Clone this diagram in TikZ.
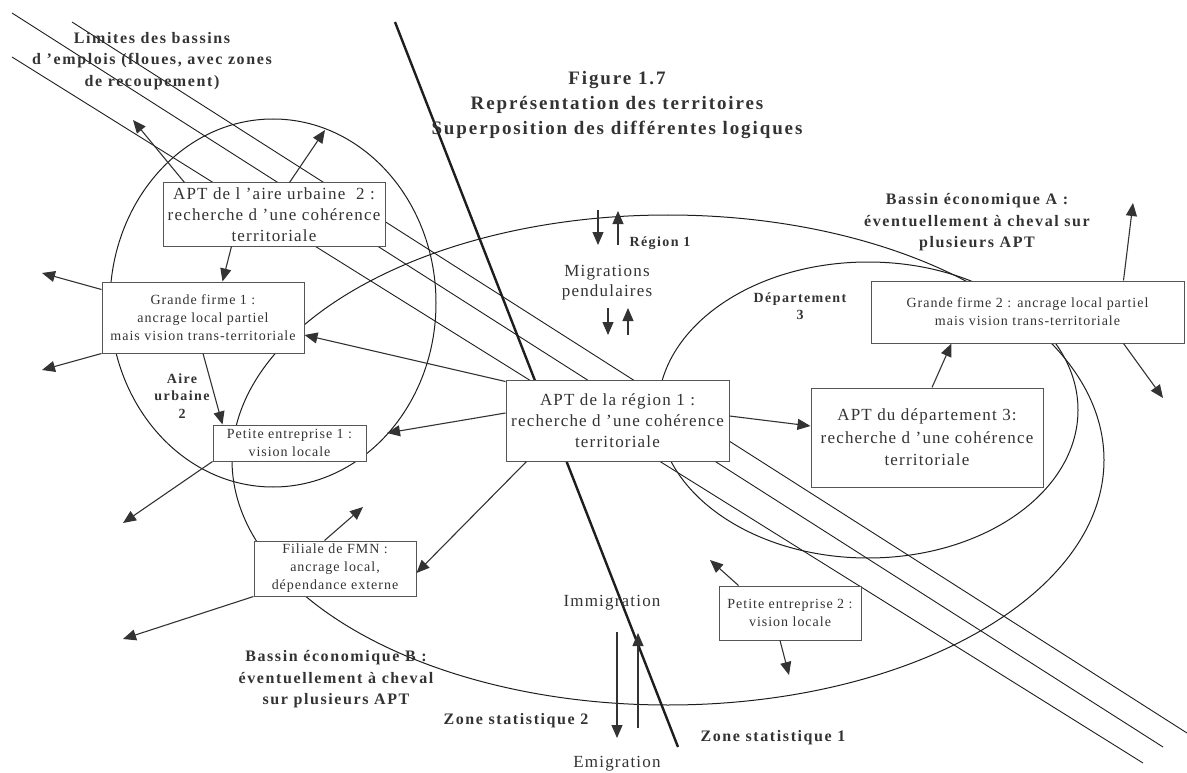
\documentclass[tikz,border=0pt]{standalone}
\usepackage{fontspec}
\setmainfont{Liberation Serif}[LetterSpace=7]
\newfontfamily\lblfont{Liberation Serif}[LetterSpace=10]
\usetikzlibrary{arrows.meta}

\definecolor{ink}{HTML}{333333}
\definecolor{boxline}{HTML}{555555}
\definecolor{rule}{HTML}{1E1E1E}

\tikzset{
  box/.style={draw=boxline, line width=1pt, fill=white, inner sep=0pt,
    align=center, text=ink},
  bigtxt/.style={font=\fontsize{17}{21}\selectfont},
  smalltxt/.style={font=\fontsize{14}{18}\selectfont},
  plain/.style={text=ink, align=center, inner sep=0pt,
    font=\fontsize{17}{20}\selectfont},
  lbl/.style={text=ink, align=center, inner sep=0pt,
    font=\lblfont\bfseries\fontsize{16}{21.5}\selectfont},
  smalllbl/.style={text=ink, align=center, inner sep=0pt,
    font=\lblfont\bfseries\fontsize{14}{17.5}\selectfont},
  arr/.style={draw=ink, line width=1.1pt, -{Triangle[length=13pt,width=11pt]}},
  contour/.style={draw=rule, line width=1pt},
  limit/.style={draw=rule, line width=0.9pt},
  divide/.style={draw=rule, line width=2.4pt},
}

\begin{document}
\begin{tikzpicture}[x=1pt, y=-1pt]
\useasboundingbox (0,0) rectangle (1187,773);

% territorial outlines
\draw[contour] (273,303) ellipse [x radius=163, y radius=184];   % aire urbaine 2
\draw[contour] (668,460) ellipse [x radius=436, y radius=245];   % region 1
\draw[contour] (868,410) ellipse [x radius=210, y radius=148];   % departement 3

% employment basin limits
\draw[limit] (12,13) -- (1163,747);
\draw[limit] (72,22) -- (1187,733);
\draw[limit] (12,57) -- (1143,763);

% statistical zone boundary
\draw[divide] (395,22) -- (678,747);

% actors
\node[box, bigtxt, minimum width=222pt, minimum height=63pt] (aur) at (274,214.5)
  {APT de l ’aire urbaine\ \ 2 :\\recherche d ’une cohérence\\territoriale};
\node[box, smalltxt, minimum width=202pt, minimum height=71pt] (gf1) at (203,317.5)
  {Grande firme 1 :\\ancrage local partiel\\mais vision trans-territoriale};
\node[box, smalltxt, minimum width=153pt, minimum height=36pt] (pe1) at (289.5,443)
  {Petite entreprise 1 :\\vision locale};
\node[box, smalltxt, minimum width=162pt, minimum height=55pt] (fil) at (335,568.5)
  {Filiale de FMN :\\ancrage local,\\dépendance externe};
\node[box, bigtxt, minimum width=223pt, minimum height=81pt] (apr) at (617.5,420.5)
  {APT de la région 1 :\\recherche d ’une cohérence\\territoriale};
\node[box, font=\fontsize{17}{22.5}\selectfont, minimum width=232pt, minimum height=99pt] (apd) at (927,437.5)
  {APT du département 3:\\recherche d ’une cohérence\\territoriale};
\node[box, smalltxt, minimum width=313pt, minimum height=62pt] (gf2) at (1027.5,312)
  {Grande firme 2 : ancrage local partiel\\mais vision trans-territoriale};
\node[box, smalltxt, minimum width=142pt, minimum height=54pt] (pe2) at (790,613)
  {Petite entreprise 2 :\\vision locale};

% free arrow ends
\coordinate (c1) at (133,120);
\coordinate (c2) at (325,130);
\coordinate (c3) at (42,273);
\coordinate (c4) at (42,370);
\coordinate (c5) at (387,433);
\coordinate (c6) at (123,523);
\coordinate (c7) at (123,639);
\coordinate (c8) at (363,507);
\coordinate (c9) at (1133,203);
\coordinate (c10) at (1163,398);
\coordinate (c11) at (710,560);
\coordinate (c12) at (789,675);

% relations between actors
\draw[arr] ([xshift=22pt]aur.north west) -- (c1);
\draw[arr] ([xshift=127pt]aur.north west) -- (c2);
\draw[arr] ([xshift=69pt]aur.south west) -- ([xshift=121pt]gf1.north west);
\draw[arr] ([yshift=-8pt]gf1.north west) -- (c3);
\draw[arr] (gf1.south west) -- (c4);
\draw[arr] (gf1.south) -- ([xshift=10pt]pe1.north west);
\draw[arr] ([yshift=-2pt]apr.north west) -- ([yshift=-17.5pt]gf1.east);
\draw[arr] ([yshift=7.5pt]apr.west) -- (c5);
\draw[arr] ([xshift=21pt]apr.south west) -- ([yshift=-4.5pt]fil.east);
\draw[arr] (pe1.south west) -- (c6);
\draw[arr] (fil.south west) -- (c7);
\draw[arr] ([xshift=71pt]fil.north west) -- (c8);
\draw[arr] ([yshift=4.5pt]apr.east) -- ([yshift=11.5pt]apd.west);
\draw[arr] ([xshift=5pt]apd.north) -- ([xshift=81pt]gf2.south west);
\draw[arr] ([xshift=-61pt]gf2.north east) -- (c9);
\draw[arr] ([xshift=-61pt]gf2.south east) -- (c10);
\draw[arr] ([xshift=20pt]pe2.north west) -- (c11);
\draw[arr] ([xshift=-10pt]pe2.south) -- (c12);

% flows in and out
\coordinate (r1a) at (598,210); \coordinate (r1b) at (598,245);
\coordinate (r2a) at (618,245); \coordinate (r2b) at (618,211);
\coordinate (m1a) at (608,308); \coordinate (m1b) at (608,335);
\coordinate (m2a) at (628,335); \coordinate (m2b) at (628,308);
\coordinate (i1a) at (617,632); \coordinate (i1b) at (617,738);
\coordinate (i2a) at (638,728); \coordinate (i2b) at (638,633);
\draw[arr] (r1a) -- (r1b);
\draw[arr] (r2a) -- (r2b);
\draw[arr] (m1a) -- (m1b);
\draw[arr] (m2a) -- (m2b);
\draw[arr] (i1a) -- (i1b);
\draw[arr] (i2a) -- (i2b);

% labels
\node[lbl, font=\lblfont\bfseries\fontsize{19}{25}\selectfont] (title) at (617,105)
  {Figure 1.7\\Représentation des territoires\\Superposition des différentes logiques};
\node[lbl] (limits) at (152,61)
  {Limites des bassins\\d ’emplois (floues, avec zones\\de recoupement)};
\node[lbl] (basA) at (977,222.5)
  {Bassin économique A :\\éventuellement à cheval sur\\plusieurs APT};
\node[lbl] (basB) at (336,679.5)
  {Bassin économique B :\\éventuellement à cheval\\sur plusieurs APT};
\node[smalllbl] (reg) at (660,243) {Région 1};
\node[smalllbl] (dep) at (800,306) {Département\\3};
\node[smalllbl] (aire) at (182,396) {Aire\\urbaine\\2};
\node[lbl] (zs2) at (516,721) {Zone statistique 2};
\node[lbl] (zs1) at (773,738) {Zone statistique 1};
\node[plain] (migr) at (607,283) {Migrations\\pendulaires};
\node[plain] (immi) at (612,603) {Immigration};
\node[plain] (emi) at (617,764) {Emigration};
\end{tikzpicture}
\end{document}
